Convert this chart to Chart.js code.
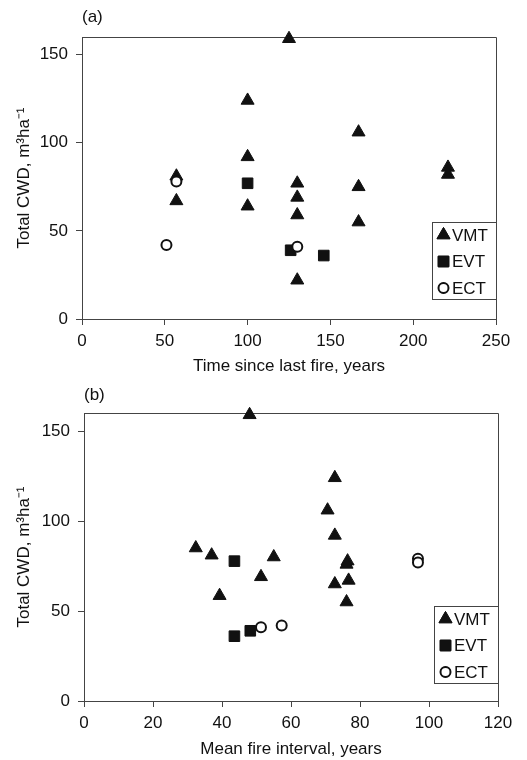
<!DOCTYPE html>
<html>
<head>
<meta charset="utf-8">
<script src="https://cdn.jsdelivr.net/npm/chart.js@4"></script>
<style>
  html, body { margin: 0; padding: 0; background: #fff; }
  .panel { position: absolute; left: 0; width: 527px; height: 380px; }
</style>
</head>
<body>
<div class="panel" style="top:0"><canvas id="chartA" width="527" height="380"></canvas></div>
<div class="panel" style="top:380px"><canvas id="chartB" width="527" height="380"></canvas></div>
<script>
const seriesNames = ['VMT', 'EVT', 'ECT'];
const cwdTicks = [0, 50, 100, 150];

// (a) time since last fire
const timeTicks = [0, 50, 100, 150, 200, 250];
const vmtTime = [57, 57, 100, 100, 100, 125, 130, 130, 130, 130, 167, 167, 167, 221, 221];
const vmtTimeCwd = [81, 67, 124, 92, 64, 159, 77, 69, 59, 22, 106, 75, 55, 86, 82];
const evtTime = [100, 126, 146];
const evtTimeCwd = [77, 39, 36];
const ectTime = [51, 57, 130];
const ectTimeCwd = [42, 78, 41];

// (b) mean fire interval
const intervalTicks = [0, 20, 40, 60, 80, 100, 120];
const vmtInterval = [48, 72.7, 70.6, 72.7, 32.4, 37, 55, 76.4, 76.1, 51.3, 72.7, 76.7, 39.3, 76.1];
const vmtIntervalCwd = [159, 124, 106, 92, 85, 81, 80, 77.7, 75.9, 69, 65, 67, 58.5, 55];
const evtInterval = [43.6, 43.6, 48.2];
const evtIntervalCwd = [77.7, 36, 39];
const ectInterval = [51.3, 57.3, 96.8, 96.8];
const ectIntervalCwd = [41, 42, 79, 77];

const INK = '#111';
const AXIS = '#444';
Chart.defaults.font.family = '"Liberation Sans", Arial, sans-serif';
Chart.defaults.color = INK;

const styles = [
    { pointStyle: 'triangle', pointRadius: 7.5, pointBorderWidth: 1, pointBackgroundColor: INK, pointBorderColor: INK, order: 3 },
    { pointStyle: 'rect', pointRadius: 7.5, pointBorderWidth: 1, pointBackgroundColor: INK, pointBorderColor: INK, order: 2 },
    { pointStyle: 'circle', pointRadius: 5, pointBorderWidth: 2, pointBackgroundColor: '#fff', pointBorderColor: INK, order: 1 }
];

function toPoints(xs, ys) {
    return xs.map((x, i) => ({ x: x, y: ys[i] }));
}

// frame round the plot, panel label and the boxed legend inside the plot
const panelDecor = {
    id: 'panelDecor',
    beforeDatasetsDraw(chart, args, opts) {
        const { ctx, chartArea: a } = chart;
        ctx.save();
        ctx.strokeStyle = AXIS;
        ctx.lineWidth = 1;
        ctx.beginPath();
        ctx.moveTo(a.left, a.top + 0.5);
        ctx.lineTo(a.right + 0.5, a.top + 0.5);
        ctx.lineTo(a.right + 0.5, a.bottom);
        ctx.stroke();
        ctx.fillStyle = INK;
        ctx.font = '17px "Liberation Sans", Arial, sans-serif';
        ctx.textBaseline = 'middle';
        ctx.fillText(opts.label, a.left, opts.labelY);
        ctx.restore();
    },
    afterDraw(chart, args, opts) {
        const { ctx, chartArea: a } = chart;
        const w = 64, h = 77;
        const left = a.right - w, top = a.bottom - opts.legendGap - h;
        ctx.save();
        ctx.fillStyle = '#fff';
        ctx.fillRect(left, top, w, h);
        ctx.strokeStyle = AXIS;
        ctx.lineWidth = 1;
        ctx.strokeRect(left + 0.5, top + 0.5, w, h);
        ctx.font = '17px "Liberation Sans", Arial, sans-serif';
        ctx.textBaseline = 'middle';
        chart.data.datasets.forEach((ds, i) => {
            const y = top + 13 + i * 26.5;
            Chart.helpers.drawPoint(ctx, {
                pointStyle: ds.pointStyle,
                radius: ds.pointRadius,
                borderWidth: ds.pointBorderWidth,
                rotation: 0
            }, left + 11.5, y);
            ctx.fillStyle = ds.pointBackgroundColor;
            ctx.strokeStyle = ds.pointBorderColor;
            ctx.lineWidth = ds.pointBorderWidth;
            ctx.fill();
            ctx.stroke();
            ctx.fillStyle = INK;
            ctx.fillText(ds.label, left + 20, y + 1);
        });
        ctx.restore();
    }
};

function makeChart(id, setup) {
    const datasets = setup.series.map((s, i) => Object.assign({
        label: seriesNames[i],
        data: toPoints(s[0], s[1]),
        clip: false
    }, styles[i]));

    return new Chart(document.getElementById(id), {
        type: 'scatter',
        data: { datasets: datasets },
        plugins: [panelDecor],
        options: {
            responsive: false,
            animation: false,
            events: [],
            layout: { padding: setup.padding },
            plugins: {
                legend: { display: false },
                tooltip: { enabled: false },
                panelDecor: { label: setup.label, labelY: setup.labelY, legendGap: setup.legendGap }
            },
            scales: {
                x: {
                    type: 'linear',
                    position: 'bottom',
                    min: setup.xTicks[0],
                    max: setup.xTicks[setup.xTicks.length - 1],
                    afterBuildTicks: scale => { scale.ticks = setup.xTicks.map(v => ({ value: v })); },
                    afterFit: scale => { scale.height = setup.xHeight; },
                    grid: { drawOnChartArea: false, drawTicks: true, tickLength: 6, color: AXIS },
                    border: { display: true, color: AXIS },
                    ticks: { autoSkip: false, maxRotation: 0, padding: 6, font: { size: 17 }, color: INK },
                    title: {
                        display: true,
                        text: setup.xTitle,
                        font: { size: 17 },
                        color: INK,
                        padding: { top: 0, bottom: setup.xTitlePad }
                    }
                },
                y: {
                    type: 'linear',
                    min: 0,
                    max: 160,
                    afterBuildTicks: scale => { scale.ticks = cwdTicks.map(v => ({ value: v })); },
                    afterFit: scale => { scale.width = setup.yWidth; },
                    grid: { drawOnChartArea: false, drawTicks: true, tickLength: 6, color: AXIS },
                    border: { display: true, color: AXIS },
                    ticks: { padding: 8, font: { size: 17 }, color: INK },
                    title: {
                        display: true,
                        text: 'Total CWD, m\u00B3ha\u207B\u00B9',
                        font: { size: 17 },
                        color: INK,
                        padding: { top: 14, bottom: 0 }
                    }
                }
            }
        }
    });
}

makeChart('chartA', {
    series: [[vmtTime, vmtTimeCwd], [evtTime, evtTimeCwd], [ectTime, ectTimeCwd]],
    xTicks: timeTicks,
    xTitle: 'Time since last fire, years',
    label: '(a)',
    labelY: 17,
    legendGap: 20,
    padding: { top: 37, right: 31, left: 0, bottom: 0 },
    yWidth: 82,
    xHeight: 61,
    xTitlePad: 3
});

makeChart('chartB', {
    series: [[vmtInterval, vmtIntervalCwd], [evtInterval, evtIntervalCwd], [ectInterval, ectIntervalCwd]],
    xTicks: intervalTicks,
    xTitle: 'Mean fire interval, years',
    label: '(b)',
    labelY: 15,
    legendGap: 18,
    padding: { top: 33, right: 29, left: 0, bottom: 0 },
    yWidth: 84,
    xHeight: 59,
    xTitlePad: 0
});
</script>
</body>
</html>
